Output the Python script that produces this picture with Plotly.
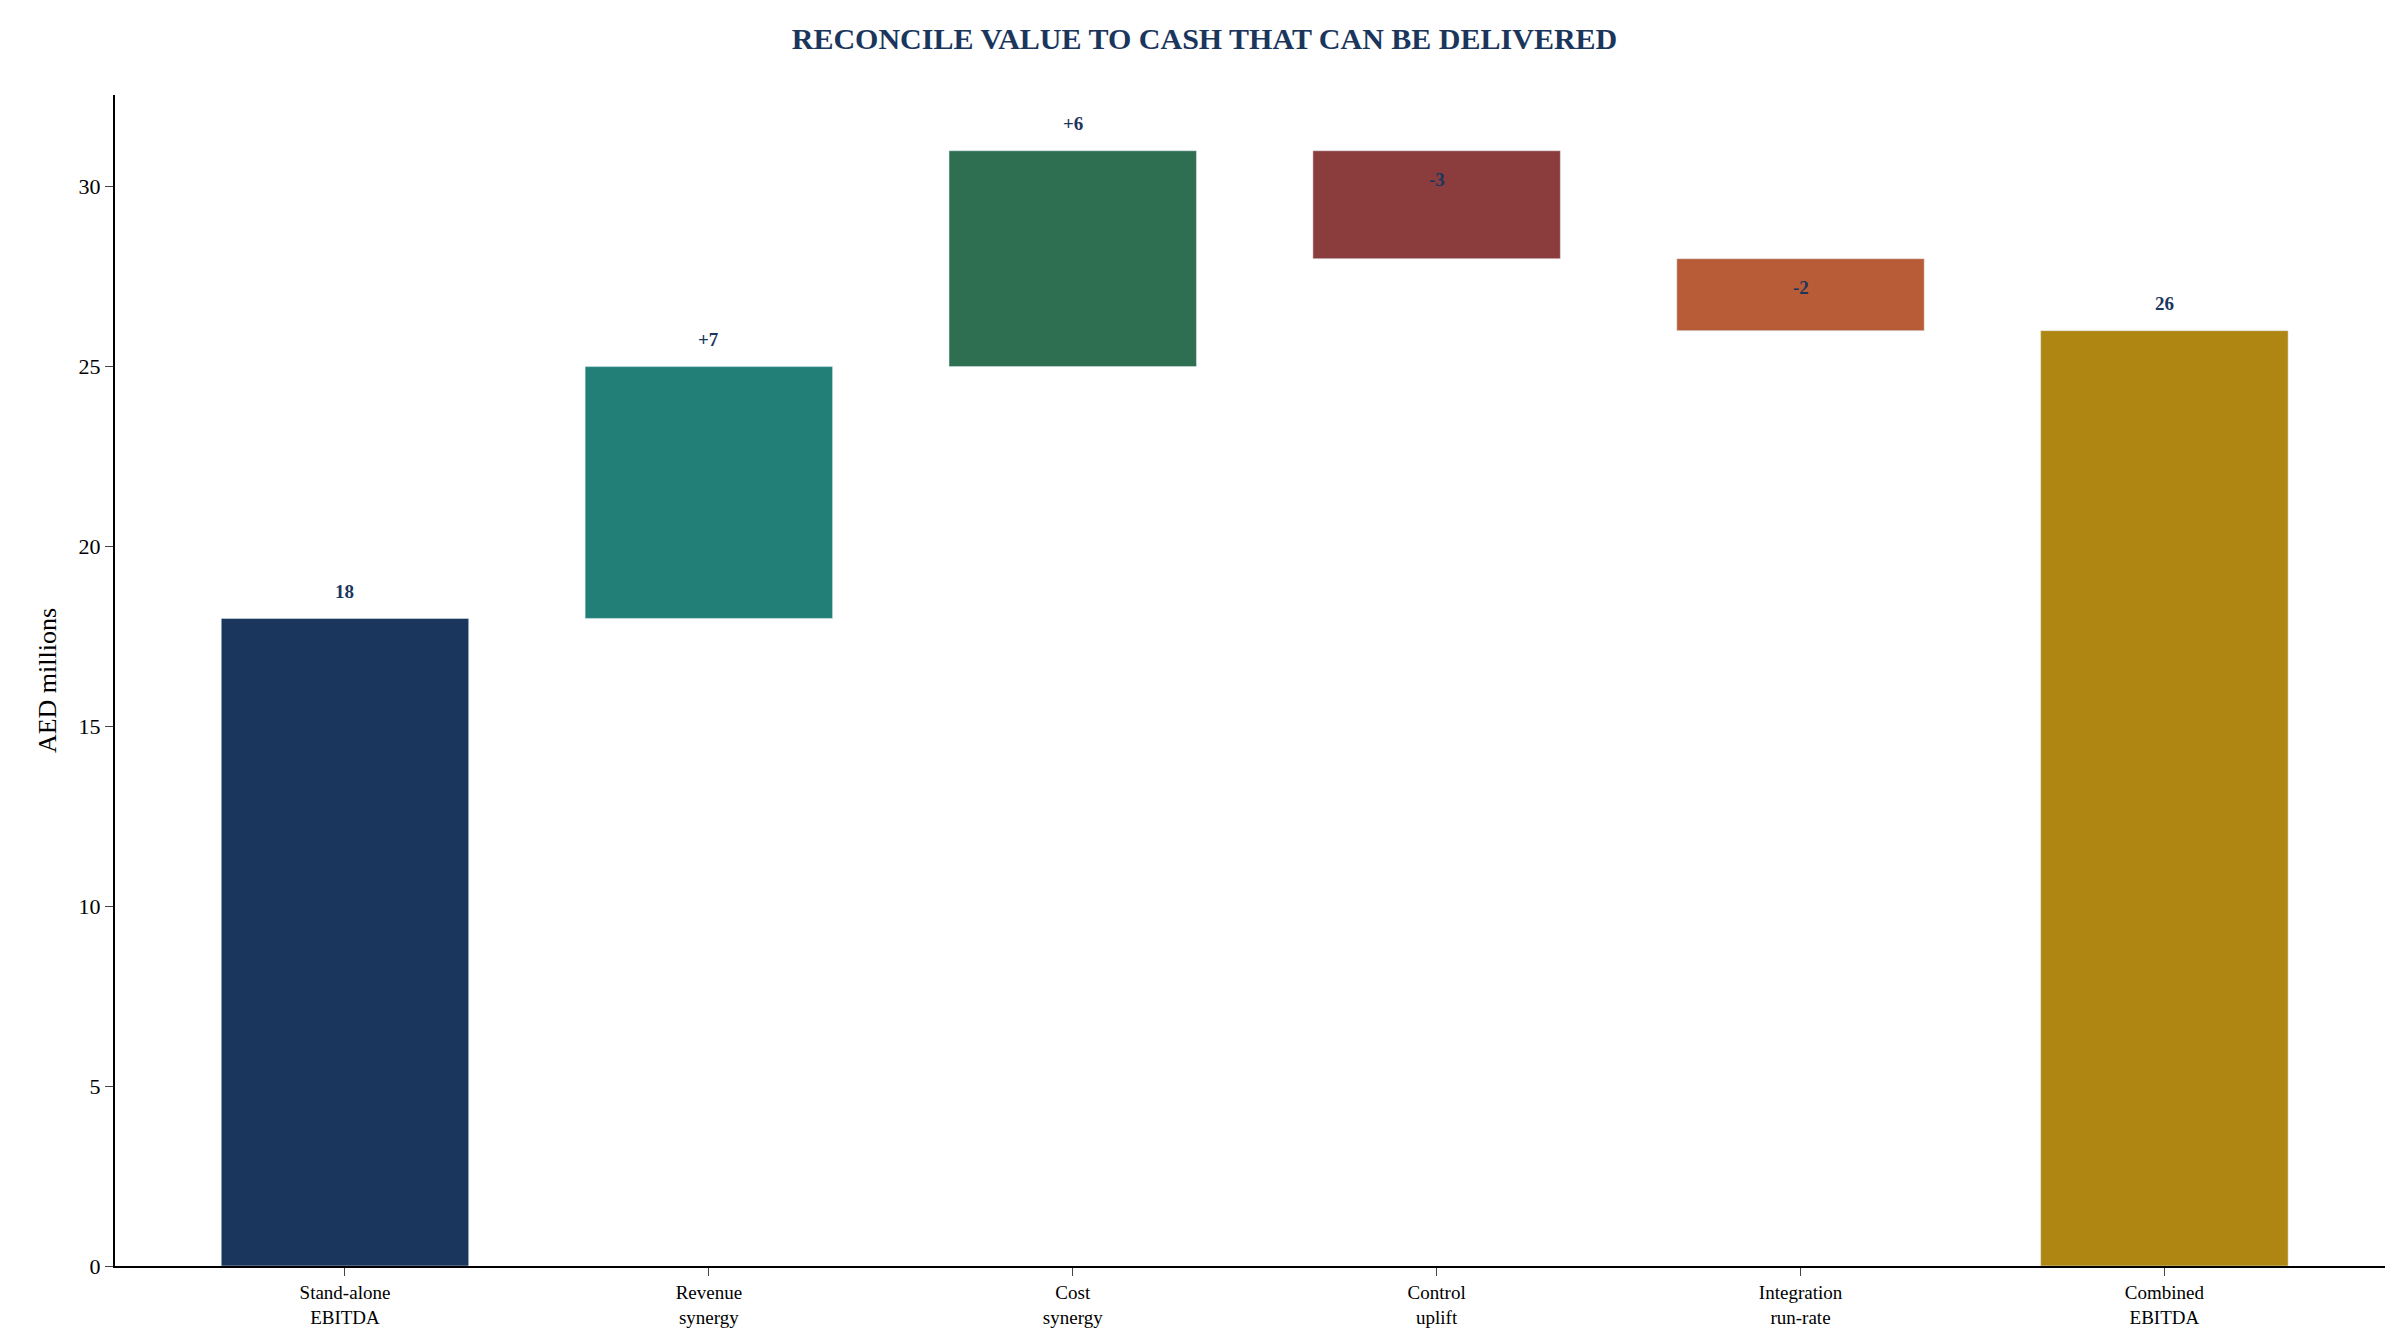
import plotly.graph_objects as go

categories = ["Stand-alone<br>EBITDA", "Revenue<br>synergy", "Cost<br>synergy", "Control<br>uplift", "Integration<br>run-rate", "Combined<br>EBITDA"]
values = [18, 7, 6, -3, -2, 26]
kinds = ["total", "delta", "delta", "delta", "delta", "total"]
labels = ["18", "+7", "+6", "-3", "-2", "26"]
colors = ["#1b365d", "#217f78", "#2e6f51", "#8b3d3d", "#b85c38", "#b08612"]

bases, heights = [], []
run = 0
for v, k in zip(values, kinds):
    if k == "total":
        bases.append(0); heights.append(v); run = v
    else:
        if v >= 0:
            bases.append(run); heights.append(v)
        else:
            bases.append(run + v); heights.append(-v)
        run += v

fig = go.Figure(go.Bar(x=list(range(6)), y=heights, base=bases, marker_color=colors,
                       width=0.68, hoverinfo="skip"))
for i, (v, lab) in enumerate(zip(values, labels)):
    top = bases[i] + heights[i]
    if v >= 0:
        fig.add_annotation(x=i, y=top + 0.4, text=f"<b>{lab}</b>", showarrow=False, yanchor="bottom",
                           font=dict(size=19, color="#1b365d"))
    else:
        fig.add_annotation(x=i, y=top - 0.8, text=f"<b>{lab}</b>", showarrow=False, yanchor="middle",
                           font=dict(size=19, color="#1b365d"))

fig.update_layout(
    width=2393, height=1342, plot_bgcolor="white", paper_bgcolor="white",
    font=dict(family="Liberation Serif", color="black"),
    margin=dict(l=107, r=11, t=87, b=84),
    title=dict(text="<b>RECONCILE VALUE TO CASH THAT CAN BE DELIVERED</b>", x=0.5, xanchor="center",
               y=0.985, yanchor="top", font=dict(size=30, color="#1b365d")),
    showlegend=False,
)
fig.update_xaxes(range=[-0.632, 5.62], tickvals=list(range(6)), ticktext=categories,
                 showline=True, linecolor="black", linewidth=2, ticks="outside", ticklen=8,
                 tickfont=dict(size=19), showgrid=False)
fig.update_yaxes(range=[0, 32.55], tickvals=[0, 5, 10, 15, 20, 25, 30], showline=True, linecolor="black",
                 linewidth=2, ticks="outside", ticklen=8, tickfont=dict(size=22), showgrid=False,
                 zeroline=False, title=dict(text="AED millions", font=dict(size=26), standoff=14))
fig.write_html("out.html")
